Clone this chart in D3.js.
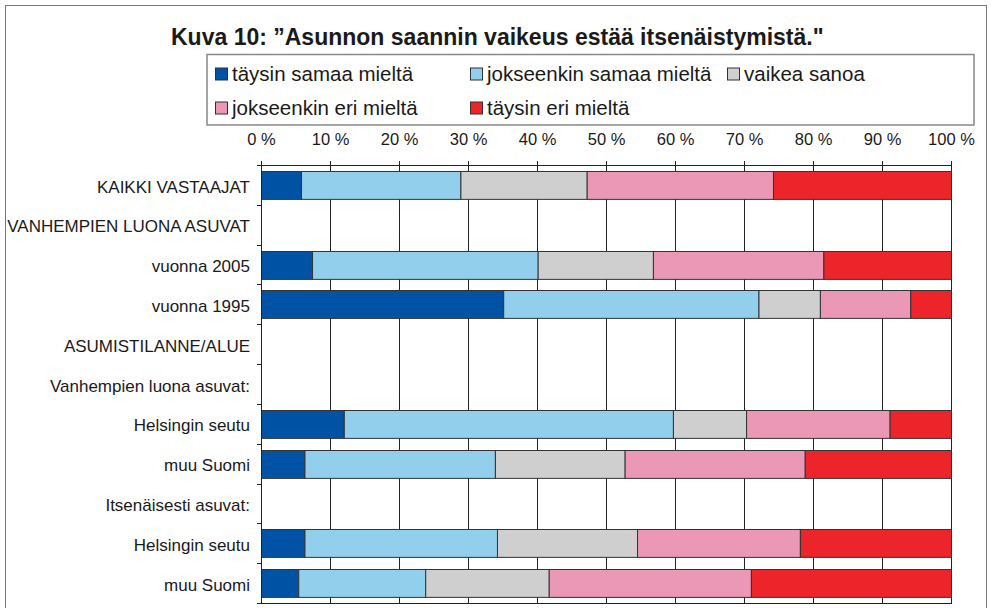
<!DOCTYPE html>
<html>
<head>
<meta charset="utf-8">
<script src="https://cdn.jsdelivr.net/npm/d3@7"></script>
<style>
  body { margin: 0; background: #fff; }
  svg { display: block; font-family: "Liberation Sans", Arial, sans-serif; }
</style>
</head>
<body>
<svg id="chart"></svg>
<script>
// categories (rows) and the five answer series, values in percent
const categories = [
  "KAIKKI VASTAAJAT",
  "VANHEMPIEN LUONA ASUVAT",
  "vuonna 2005",
  "vuonna 1995",
  "ASUMISTILANNE/ALUE",
  "Vanhempien luona asuvat:",
  "Helsingin seutu",
  "muu Suomi",
  "Itsenäisesti asuvat:",
  "Helsingin seutu",
  "muu Suomi"
];
const seriesNames = ["täysin samaa mieltä", "jokseenkin samaa mieltä", "vaikea sanoa", "jokseenkin eri mieltä", "täysin eri mieltä"];
const seriesColors = ["#0053a4", "#92cfec", "#cfcfcf", "#ea98b5", "#ee242b"];

const taysinSamaa     = [5.8, null, 7.4, 35.1, null, null, 12.0, 6.3, null, 6.3, 5.4];
const jokseenkinSamaa = [23.1, null, 32.7, 37.0, null, null, 47.7, 27.6, null, 27.9, 18.4];
const vaikeaSanoa     = [18.3, null, 16.7, 8.9, null, null, 10.6, 18.8, null, 20.3, 17.9];
const jokseenkinEri   = [27.0, null, 24.7, 13.1, null, null, 20.8, 26.1, null, 23.6, 29.3];
const taysinEri       = [25.8, null, 18.5, 5.9, null, null, 8.9, 21.2, null, 21.9, 29.0];

const xTicks = [0, 10, 20, 30, 40, 50, 60, 70, 80, 90, 100];
const titleText = "Kuva 10: \u201dAsunnon saannin vaikeus estää itsenäistymistä.\"";

const width = 991, height = 608;
const plotLeft = 261, plotRight = 951, plotTop = 165, plotBottom = 603;

const svg = d3.select("#chart").attr("width", width).attr("height", height);

// outer frame
svg.append("rect")
  .attr("x", 5.5).attr("y", 5.5)
  .attr("width", 981).attr("height", 640)
  .attr("fill", "none").attr("stroke", "#777").attr("stroke-width", 1);

// title
svg.append("text")
  .attr("x", 171).attr("y", 45)
  .attr("font-size", 23).attr("font-weight", "bold")
  .attr("fill", "#1a1a1a")
  .text(titleText);

// legend
svg.append("rect")
  .attr("x", 207).attr("y", 54.5)
  .attr("width", 767).attr("height", 70.5)
  .attr("fill", "#fff").attr("stroke", "#888").attr("stroke-width", 1.5);

const legendPos = [[215, 73.5], [470, 73.5], [727, 73.5], [215, 107.5], [470, 107.5]];
const legend = svg.append("g").selectAll("g")
  .data(seriesNames)
  .join("g")
  .attr("transform", (d, i) => `translate(${legendPos[i][0]},${legendPos[i][1]})`);
legend.append("rect")
  .attr("x", 0.5).attr("y", -5.5)
  .attr("width", 12).attr("height", 12)
  .attr("fill", (d, i) => seriesColors[i])
  .attr("stroke", "#333").attr("stroke-width", 1);
legend.append("text")
  .attr("x", 17).attr("dy", "0.36em")
  .attr("font-size", 20.5).attr("fill", "#1a1a1a")
  .text(d => d);

// scales
const x = d3.scaleLinear().domain([0, 100]).range([plotLeft, plotRight]);
const y = d3.scaleBand()
  .domain(d3.range(categories.length))
  .range([plotTop, plotBottom])
  .paddingInner(0.3)
  .paddingOuter(0.15);

// table for stacking
const table = categories.map((c, i) => ({
  idx: i,
  s0: taysinSamaa[i] || 0,
  s1: jokseenkinSamaa[i] || 0,
  s2: vaikeaSanoa[i] || 0,
  s3: jokseenkinEri[i] || 0,
  s4: taysinEri[i] || 0,
  hasData: taysinSamaa[i] != null
}));
const stacked = d3.stack().keys(["s0", "s1", "s2", "s3", "s4"])(table);

// grid lines
svg.append("g")
  .selectAll("line")
  .data(xTicks)
  .join("line")
  .attr("x1", d => Math.round(x(d)) + 0.5).attr("x2", d => Math.round(x(d)) + 0.5)
  .attr("y1", plotTop).attr("y2", plotBottom)
  .attr("stroke", "#222").attr("stroke-width", 1);

// top axis with labels
const topAxis = svg.append("g")
  .attr("transform", `translate(0,${plotTop})`)
  .call(d3.axisTop(x).tickValues(xTicks).tickFormat(d => d + " %").tickSize(4).tickPadding(16));
topAxis.select(".domain").attr("stroke", "#222");
topAxis.selectAll(".tick line").attr("stroke", "#222");
topAxis.selectAll("text")
  .attr("font-family", "'Liberation Sans', Arial, sans-serif")
  .attr("font-size", 16.5).attr("fill", "#1a1a1a");

// bottom line
svg.append("line")
  .attr("x1", plotLeft).attr("x2", plotRight + 1)
  .attr("y1", plotBottom + 0.5).attr("y2", plotBottom + 0.5)
  .attr("stroke", "#222");

// bars
svg.append("g")
  .selectAll("g")
  .data(stacked)
  .join("g")
  .attr("fill", (d, i) => seriesColors[i])
  .selectAll("rect")
  .data(d => d.filter(p => p.data.hasData))
  .join("rect")
  .attr("x", p => x(p[0]) + 0.5)
  .attr("y", p => Math.round(y(p.data.idx)) + 0.5)
  .attr("width", p => x(p[1]) - x(p[0]))
  .attr("height", y.bandwidth())
  .attr("stroke", "#333").attr("stroke-width", 1);

// left axis: labels at band centres, ticks at band boundaries
const leftAxis = svg.append("g")
  .attr("transform", `translate(${plotLeft},0)`)
  .call(d3.axisLeft(y).tickSize(0).tickPadding(11).tickFormat(i => categories[i]));
leftAxis.select(".domain").remove();
leftAxis.selectAll("text")
  .attr("font-family", "'Liberation Sans', Arial, sans-serif")
  .attr("font-size", 17).attr("fill", "#1a1a1a")
  .attr("dy", "0.45em");

svg.append("line")
  .attr("x1", plotLeft + 0.5).attr("x2", plotLeft + 0.5)
  .attr("y1", plotTop).attr("y2", plotBottom + 1)
  .attr("stroke", "#222");
svg.append("g")
  .selectAll("line")
  .data(d3.range(categories.length + 1))
  .join("line")
  .attr("x1", plotLeft - 4).attr("x2", plotLeft)
  .attr("y1", i => Math.round(plotTop + i * y.step()) + 0.5)
  .attr("y2", i => Math.round(plotTop + i * y.step()) + 0.5)
  .attr("stroke", "#222");
</script>
</body>
</html>
